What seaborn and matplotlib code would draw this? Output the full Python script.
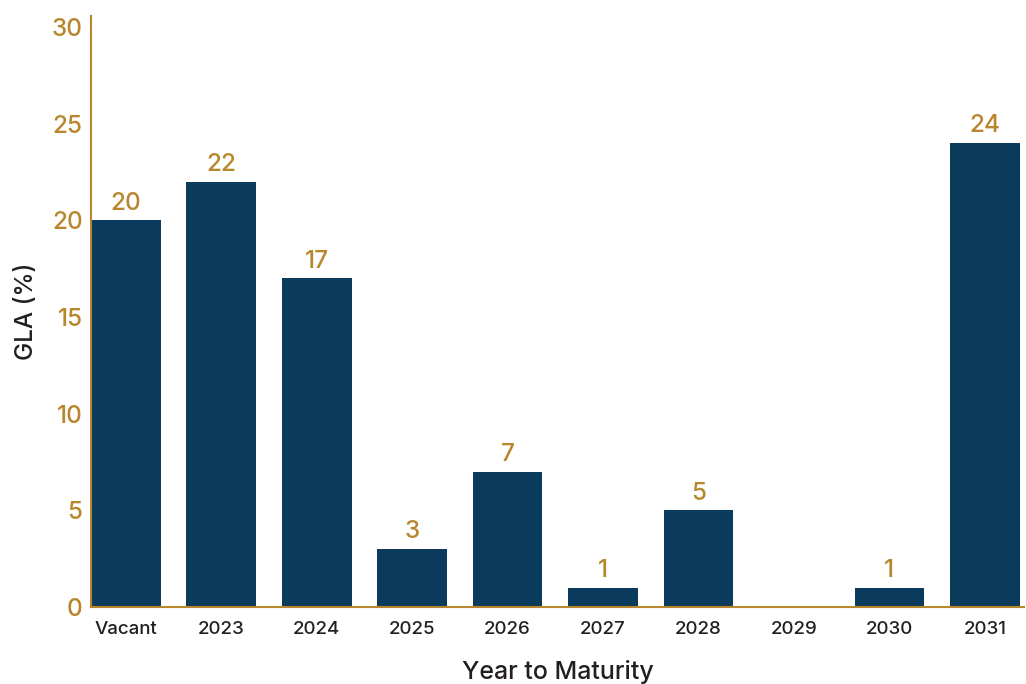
import matplotlib
matplotlib.use("Agg")
import matplotlib.pyplot as plt
import seaborn as sns
import pandas as pd

categories = ["Vacant", "2023", "2024", "2025", "2026", "2027", "2028", "2029", "2030", "2031"]
values = [20, 22, 17, 3, 7, 1, 5, 0, 1, 24]
yticks = [0, 5, 10, 15, 20, 25, 30]

NAVY = "#0a3a5c"
GOLD = "#b8862d"
DARK = "#231f20"

sns.set_theme(style="white")
plt.rcParams["font.family"] = ["Inter", "DejaVu Sans"]
plt.rcParams["font.weight"] = "medium"

df = pd.DataFrame({"cat": categories, "val": values})

fig = plt.figure(figsize=(10.26, 6.84), dpi=100)
ax = fig.add_axes([0.0887, 0.1126, 0.9093, 0.864])
sns.barplot(data=df, x="cat", y="val", color=NAVY, width=0.73, saturation=1,
            linewidth=0, edgecolor="none", ax=ax)

for i, v in enumerate(values):
    if v > 0:
        ax.text(i, v + 0.3, str(v), ha="center", va="bottom", color=GOLD, fontsize=17.5)

ax.set_xlim(-0.365, 9.41)
ax.set_ylim(0, 30.57)
ax.set_yticks(yticks)
ax.set_yticklabels([str(t) for t in yticks], color=GOLD, fontsize=17.5)
ax.tick_params(axis="x", labelsize=13.5, colors=DARK, length=0, pad=10)
ax.tick_params(axis="y", length=0, pad=6)
for lbl in ax.get_yticklabels():
    lbl.set_color(GOLD)

ax.set_xlabel("Year to Maturity", fontsize=18, color=DARK, labelpad=16, fontweight="medium")
ax.set_ylabel("GLA (%)", fontsize=17.5, color=DARK, labelpad=10, fontweight="medium")

for s in ["top", "right"]:
    ax.spines[s].set_visible(False)
for s in ["left", "bottom"]:
    ax.spines[s].set_color(GOLD)
    ax.spines[s].set_linewidth(1.5)

fig.savefig("out.png", dpi=100)
